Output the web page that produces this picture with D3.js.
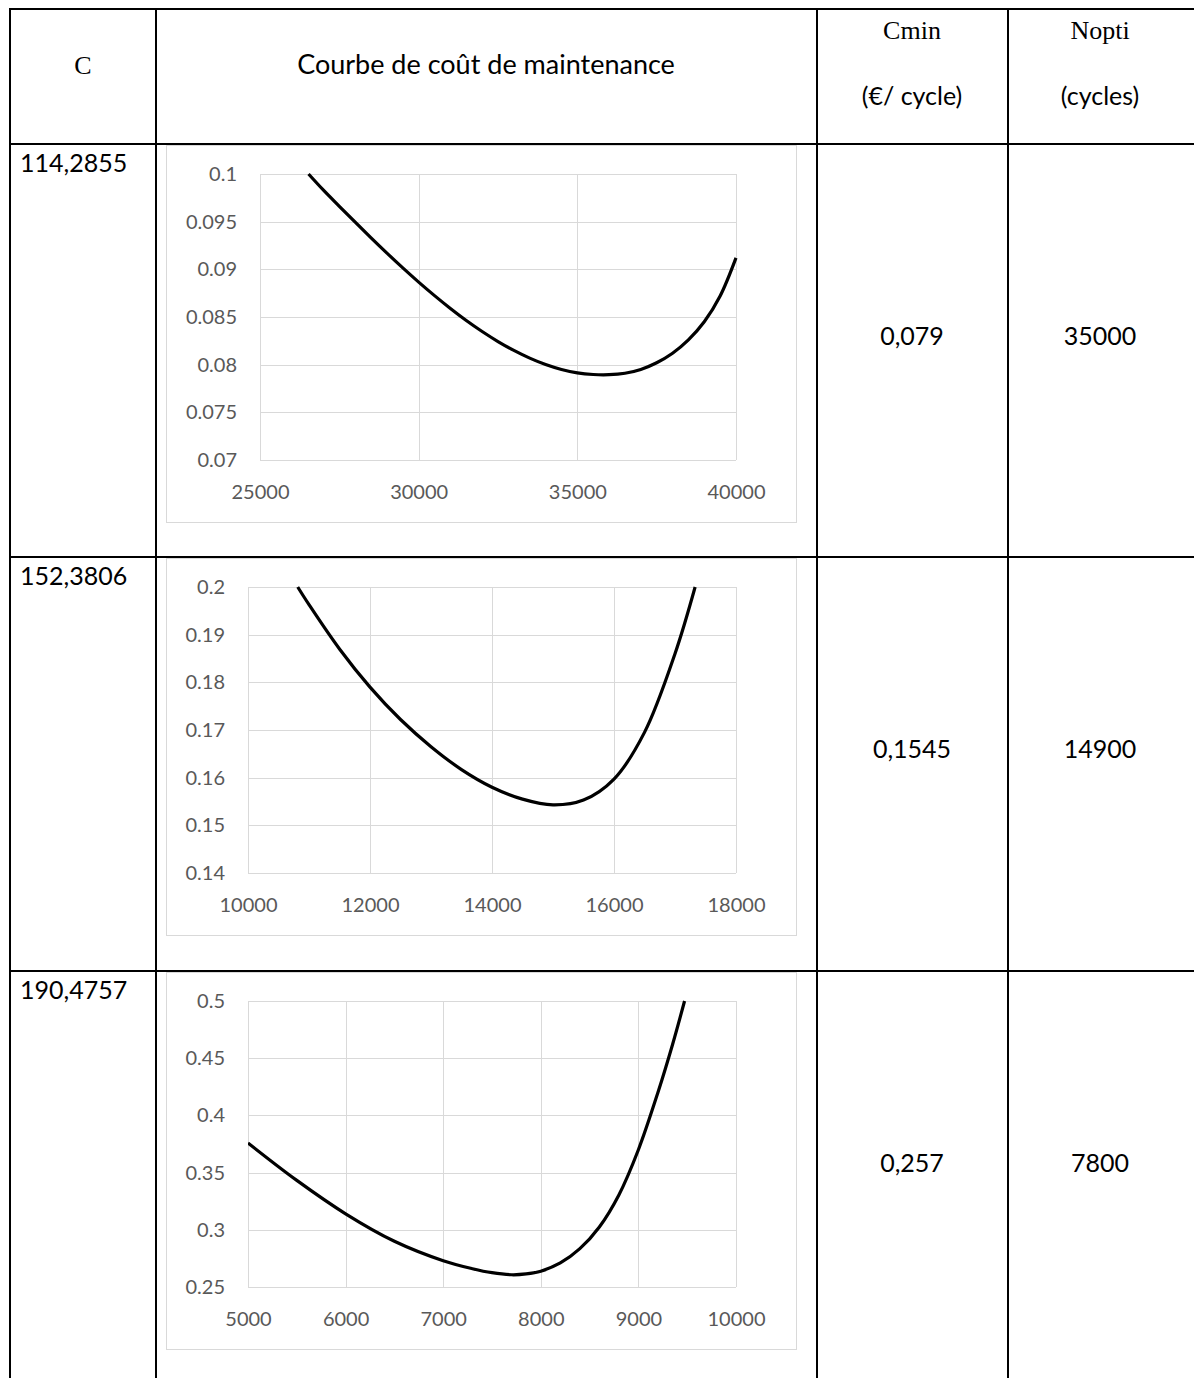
<!DOCTYPE html>
<html>
<head>
<meta charset="utf-8">
<title>Courbe de coût de maintenance</title>
<script src="https://cdn.jsdelivr.net/npm/d3@7"></script>
<style>
  body { margin: 0; background: #fff; }
  .sans { font-family: Lato, "Open Sans", sans-serif; font-size: 25px; fill: #000; }
  .serif { font-family: "Liberation Serif", serif; font-size: 26px; fill: #000; }
  .table-line { stroke: #000; stroke-width: 2; }
  .frame { fill: #fff; stroke: #d9d9d9; stroke-width: 1; }
  .axis path.domain { display: none; }
  .axis line { stroke: #d9d9d9; stroke-width: 1; shape-rendering: crispEdges; }
  .axis text { font-family: Lato, "Open Sans", sans-serif; font-size: 20px; fill: #595959; }
  .curve { fill: none; stroke: #000; stroke-width: 3.2; stroke-linejoin: round; }
</style>
</head>
<body>
<svg width="1194" height="1378"></svg>
<script>

// table values
var cValues = ["114,2855", "152,3806", "190,4757"];
var cminValues = ["0,079", "0,1545", "0,257"];
var noptiValues = ["35000", "14900", "7800"];

// curve 1 (C = 114,2855)
var cycles1 = [26530, 27000, 27500, 28000, 28500, 29000, 29500, 30000, 30500, 31000, 31500, 32000, 32500,
               33000, 33500, 34000, 34500, 35000, 35500, 36000, 36500, 37000, 37500, 38000, 38500, 39000, 39500, 40000];
var cost1 = [0.10000, 0.09830, 0.09661, 0.09494, 0.09330, 0.09170, 0.09015, 0.08866, 0.08724, 0.08589, 0.08463, 0.08348, 0.08243,
             0.08150, 0.08069, 0.08002, 0.07950, 0.07914, 0.07897, 0.07895, 0.07910, 0.07950, 0.08020, 0.08120, 0.08260, 0.08450, 0.08720, 0.09120];
var xTicks1 = [25000, 30000, 35000, 40000];
var yTicks1 = [0.07, 0.075, 0.08, 0.085, 0.09, 0.095, 0.1];

// curve 2 (C = 152,3806)
var cycles2 = [10815, 11000, 11500, 12000, 12500, 13000, 13500, 14000, 14500, 15000, 15500, 16000, 16500, 17000, 17330];
var cost2 = [0.2000, 0.1963, 0.1870, 0.1790, 0.1722, 0.1665, 0.1617, 0.1580, 0.1555, 0.1543, 0.1553, 0.1597, 0.1695, 0.1860, 0.2000];
var xTicks2 = [10000, 12000, 14000, 16000, 18000];
var yTicks2 = [0.14, 0.15, 0.16, 0.17, 0.18, 0.19, 0.2];

// curve 3 (C = 190,4757)
var cycles3 = [5000, 5500, 6000, 6500, 7000, 7300, 7500, 7700, 7850, 8000, 8200, 8400, 8600, 8800, 9000, 9200, 9350, 9473];
var cost3 = [0.3759, 0.3432, 0.3140, 0.2900, 0.2730, 0.2660, 0.2625, 0.2607, 0.2614, 0.2638, 0.2710, 0.2835, 0.3025, 0.3305, 0.3700, 0.4200, 0.4620, 0.5000];
var xTicks3 = [5000, 6000, 7000, 8000, 9000, 10000];
var yTicks3 = [0.25, 0.3, 0.35, 0.4, 0.45, 0.5];

var svg = d3.select("svg");

var rowTops = [144, 557, 971];
var colX = [10, 156, 817, 1008];

// header
svg.append("text").attr("class", "serif")
    .attr("x", 83).attr("y", 65).attr("dy", "0.35em")
    .attr("text-anchor", "middle").text("C");
svg.append("text").attr("class", "sans")
    .attr("x", 486).attr("y", 65).attr("dy", "0.35em")
    .style("font-size", "27px")
    .attr("text-anchor", "middle").text("Courbe de coût de maintenance");
svg.append("text").attr("class", "serif")
    .attr("x", 912).attr("y", 30).attr("dy", "0.35em")
    .attr("text-anchor", "middle").text("Cmin");
svg.append("text").attr("class", "sans")
    .attr("x", 912).attr("y", 96).attr("dy", "0.35em")
    .attr("text-anchor", "middle").text("(€/ cycle)");
svg.append("text").attr("class", "serif")
    .attr("x", 1100).attr("y", 30).attr("dy", "0.35em")
    .attr("text-anchor", "middle").text("Nopti");
svg.append("text").attr("class", "sans")
    .attr("x", 1100).attr("y", 96).attr("dy", "0.35em")
    .attr("text-anchor", "middle").text("(cycles)");

// rows of the table
rowTops.forEach(function(top, i) {
  svg.append("text").attr("class", "sans")
      .attr("x", 20).attr("y", top + 19).attr("dy", "0.35em")
      .text(cValues[i]);
  svg.append("text").attr("class", "sans")
      .attr("x", 912).attr("y", top + 192).attr("dy", "0.35em")
      .attr("text-anchor", "middle").text(cminValues[i]);
  svg.append("text").attr("class", "sans")
      .attr("x", 1100).attr("y", top + 192).attr("dy", "0.35em")
      .attr("text-anchor", "middle").text(noptiValues[i]);
});

// one chart per row
var charts = [
  { cycles: cycles1, cost: cost1, xTicks: xTicks1, yTicks: yTicks1, plotLeft: 260 },
  { cycles: cycles2, cost: cost2, xTicks: xTicks2, yTicks: yTicks2, plotLeft: 248 },
  { cycles: cycles3, cost: cost3, xTicks: xTicks3, yTicks: yTicks3, plotLeft: 248 }
];

charts.forEach(function(c, i) {
  var top = rowTops[i];

  svg.append("rect")
      .attr("class", "frame")
      .attr("x", 166.5).attr("y", top + 1.5)
      .attr("width", 630).attr("height", 377);

  var left = c.plotLeft, right = 736,
      ptop = top + 30, bottom = top + 316;

  var x = d3.scaleLinear()
      .domain([c.xTicks[0], c.xTicks[c.xTicks.length - 1]])
      .range([left, right]);
  var y = d3.scaleLinear()
      .domain([c.yTicks[0], c.yTicks[c.yTicks.length - 1]])
      .range([bottom, ptop]);

  var g = svg.append("g");

  g.append("g")
      .attr("class", "axis")
      .attr("transform", "translate(" + left + ",0)")
      .call(d3.axisLeft(y).tickValues(c.yTicks)
          .tickSize(-(right - left)).tickPadding(23)
          .tickFormat(function(d) { return String(d); }));

  g.append("g")
      .attr("class", "axis")
      .attr("transform", "translate(0," + bottom + ")")
      .call(d3.axisBottom(x).tickValues(c.xTicks)
          .tickSize(-(bottom - ptop)).tickPadding(25)
          .tickFormat(function(d) { return String(d); }));

  var clipId = "clip" + i;
  svg.append("clipPath").attr("id", clipId)
    .append("rect")
      .attr("x", left).attr("y", ptop - 2)
      .attr("width", right - left + 2).attr("height", bottom - ptop + 4);

  var pts = c.cycles.map(function(n, k) { return [n, c.cost[k]]; });

  var line = d3.line()
      .x(function(d) { return x(d[0]); })
      .y(function(d) { return y(d[1]); })
      .curve(d3.curveCatmullRom.alpha(0.5));

  g.append("path")
      .datum(pts)
      .attr("class", "curve")
      .attr("clip-path", "url(#" + clipId + ")")
      .attr("d", line);
});

// table grid
[9, 144, 557, 971].forEach(function(yy) {
  svg.append("line").attr("class", "table-line")
      .attr("x1", 9).attr("x2", 1194).attr("y1", yy).attr("y2", yy);
});
colX.forEach(function(xx) {
  svg.append("line").attr("class", "table-line")
      .attr("x1", xx).attr("x2", xx).attr("y1", 8).attr("y2", 1378);
});

</script>
</body>
</html>
